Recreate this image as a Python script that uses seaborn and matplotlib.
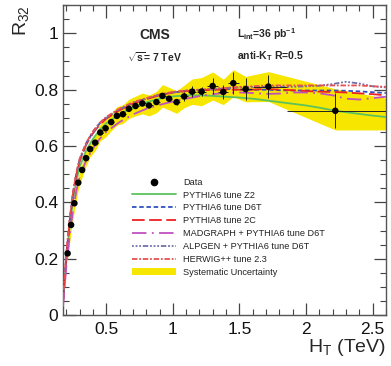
import numpy as np
import pandas as pd
import seaborn as sns
import matplotlib.pyplot as plt
from matplotlib.lines import Line2D
from matplotlib.patches import Patch
from matplotlib.ticker import MultipleLocator

# measured R32 vs HT (TeV)
ht = [0.21, 0.236, 0.261, 0.29, 0.319, 0.349, 0.379, 0.417, 0.455, 0.495,
      0.537, 0.58, 0.625, 0.67, 0.72, 0.771, 0.821, 0.877, 0.922, 0.972,
      1.028, 1.085, 1.145, 1.216, 1.299, 1.379, 1.454, 1.547, 1.718, 2.22]
r32 = [0.219, 0.32, 0.397, 0.47, 0.515, 0.557, 0.589, 0.612, 0.648, 0.663,
       0.685, 0.707, 0.713, 0.732, 0.742, 0.751, 0.744, 0.756, 0.778, 0.768,
       0.756, 0.776, 0.793, 0.793, 0.813, 0.792, 0.823, 0.802, 0.811, 0.725]
r32_err = [0.003, 0.003, 0.003, 0.003, 0.003, 0.003, 0.003, 0.003, 0.003, 0.003,
           0.003, 0.003, 0.004, 0.004, 0.004, 0.005, 0.005, 0.006, 0.007, 0.008,
           0.01, 0.016, 0.02, 0.017, 0.027, 0.024, 0.04, 0.04, 0.042, 0.062]
ht_err_lo = [0.012, 0.013, 0.013, 0.014, 0.015, 0.015, 0.016, 0.018, 0.019, 0.02,
             0.021, 0.022, 0.023, 0.024, 0.025, 0.026, 0.027, 0.028, 0.023, 0.025,
             0.028, 0.029, 0.031, 0.034, 0.04, 0.038, 0.04, 0.045, 0.118, 0.36]
ht_err_hi = [0.012, 0.013, 0.013, 0.014, 0.015, 0.015, 0.016, 0.018, 0.019, 0.02,
             0.021, 0.022, 0.023, 0.024, 0.025, 0.026, 0.027, 0.028, 0.023, 0.025,
             0.028, 0.029, 0.031, 0.034, 0.04, 0.038, 0.04, 0.045, 0.142, 0.38]

# systematic uncertainty band
band_ht = ht + [2.6]
band_lo = [0.2, 0.298, 0.372, 0.445, 0.49, 0.53, 0.562, 0.584, 0.618, 0.632,
           0.654, 0.674, 0.68, 0.698, 0.707, 0.714, 0.707, 0.718, 0.738, 0.728,
           0.716, 0.736, 0.748, 0.743, 0.763, 0.747, 0.775, 0.757, 0.758, 0.657, 0.657]
band_hi = [0.24, 0.342, 0.422, 0.495, 0.54, 0.585, 0.616, 0.64, 0.678, 0.694,
           0.716, 0.74, 0.746, 0.766, 0.777, 0.788, 0.781, 0.794, 0.818, 0.808,
           0.796, 0.816, 0.838, 0.843, 0.863, 0.837, 0.871, 0.847, 0.864, 0.803, 0.77]

# MC predictions
ht_mc = [0.175, 0.2, 0.225, 0.25, 0.275, 0.3, 0.35, 0.4, 0.45, 0.5, 0.6, 0.7, 0.8,
         0.9, 1.0, 1.1, 1.2, 1.3, 1.4, 1.5, 1.6, 1.7, 1.8, 1.9, 2.0, 2.1, 2.2,
         2.3, 2.4, 2.5, 2.6]
z2 = [0.04, 0.19, 0.31, 0.405, 0.475, 0.525, 0.585, 0.625, 0.657, 0.68, 0.713, 0.737,
      0.755, 0.768, 0.776, 0.78, 0.78, 0.778, 0.775, 0.772, 0.768, 0.762, 0.756,
      0.75, 0.744, 0.736, 0.727, 0.72, 0.714, 0.708, 0.703]
d6t = [0.05, 0.21, 0.33, 0.43, 0.50, 0.55, 0.61, 0.65, 0.68, 0.70, 0.73, 0.752,
       0.768, 0.782, 0.79, 0.795, 0.798, 0.80, 0.803, 0.80, 0.80, 0.80, 0.798,
       0.797, 0.797, 0.797, 0.797, 0.796, 0.794, 0.791, 0.788]
p8 = [0.04, 0.20, 0.33, 0.425, 0.495, 0.545, 0.605, 0.645, 0.675, 0.697, 0.727, 0.75,
      0.766, 0.78, 0.79, 0.795, 0.797, 0.80, 0.80, 0.80, 0.80, 0.803, 0.80, 0.798,
      0.795, 0.793, 0.792, 0.79, 0.787, 0.784, 0.78]
madgraph = [0.03, 0.17, 0.28, 0.37, 0.44, 0.49, 0.55, 0.592, 0.625, 0.65, 0.685,
            0.712, 0.732, 0.746, 0.758, 0.768, 0.777, 0.784, 0.789, 0.79, 0.788,
            0.785, 0.786, 0.79, 0.79, 0.787, 0.78, 0.768, 0.765, 0.77, 0.775]
alpgen = [0.05, 0.21, 0.335, 0.43, 0.50, 0.55, 0.607, 0.647, 0.678, 0.70, 0.73,
          0.752, 0.768, 0.782, 0.79, 0.797, 0.80, 0.803, 0.806, 0.808, 0.81, 0.81,
          0.81, 0.81, 0.812, 0.814, 0.82, 0.828, 0.822, 0.812, 0.808]
herwig = [0.05, 0.22, 0.34, 0.435, 0.505, 0.555, 0.612, 0.652, 0.682, 0.703, 0.733,
          0.755, 0.77, 0.783, 0.792, 0.797, 0.80, 0.803, 0.806, 0.81, 0.812, 0.815,
          0.815, 0.815, 0.815, 0.815, 0.815, 0.815, 0.815, 0.812, 0.81]

labels = ["PYTHIA6 tune Z2", "PYTHIA6 tune D6T", "PYTHIA8 tune 2C",
          "MADGRAPH + PYTHIA6 tune D6T", "ALPGEN + PYTHIA6 tune D6T",
          "HERWIG++ tune 2.3"]

sns.set_style("ticks")
plt.rcParams['font.family'] = ['Liberation Sans', 'DejaVu Sans']
plt.rcParams['mathtext.fontset'] = 'custom'
plt.rcParams['mathtext.rm'] = 'Liberation Sans'
plt.rcParams['mathtext.it'] = 'Liberation Sans'
plt.rcParams['mathtext.bf'] = 'Liberation Sans:bold'

fig = plt.figure(figsize=(3.91, 3.66), dpi=100)
ax = fig.add_axes([0.161, 0.139, 0.826, 0.847])

yellow = '#f7e600'
ax.fill_between(band_ht, band_lo, band_hi, color=yellow, lw=0, zorder=1)

styles = [
    ('#5cc35c', '-'),
    ('#3050c0', (0, (2.5, 1.5))),
    ('#ee2020', (0, (7, 2.5))),
    ('#c050c0', (0, (8, 3, 1, 3))),
    ('#7070a8', (0, (1, 1, 1, 1, 1, 1, 3, 1))),
    ('#e85050', (0, (3, 1, 1, 1))),
]
curves = [z2, d6t, p8, madgraph, alpgen, herwig]
for yv, (c, ls) in zip(curves, styles):
    df = pd.DataFrame({'ht': ht_mc, 'r': yv})
    sns.lineplot(data=df, x='ht', y='r', ax=ax, color=c, linestyle=ls, lw=1.3,
                 zorder=3)

ax.errorbar(ht, r32, yerr=r32_err, xerr=[ht_err_lo, ht_err_hi], fmt='none',
            ecolor='#222222', elinewidth=0.7, capsize=0, zorder=4)
sns.scatterplot(x=ht, y=r32, ax=ax, color='black', s=22, edgecolor='none', zorder=5)

ax.set_xlim(0.175, 2.6)
ax.set_ylim(0, 1.1)
ax.xaxis.set_major_locator(MultipleLocator(0.5))
ax.xaxis.set_minor_locator(MultipleLocator(0.1))
ax.yaxis.set_major_locator(MultipleLocator(0.2))
ax.yaxis.set_minor_locator(MultipleLocator(0.05))
ax.set_yticks([0, 0.2, 0.4, 0.6, 0.8, 1])
ax.set_yticklabels(['0', '0.2', '0.4', '0.6', '0.8', '1'])
ax.set_xticks([0.5, 1, 1.5, 2, 2.5])
ax.set_xticklabels(['0.5', '1', '1.5', '2', '2.5'])
ax.tick_params(which='both', direction='in', top=True, right=True, colors='#444444',
               labelcolor='#111111', labelsize=12.5)
ax.tick_params(which='major', length=9, width=0.9)
ax.tick_params(which='minor', length=4.5, width=0.8)
ax.tick_params(axis='x', pad=5)
for s in ax.spines.values():
    s.set_color('#555555')
    s.set_linewidth(1.0)

ax.set_xlabel('H$_{\\mathregular{T}}$ (TeV)', fontsize=14, loc='right', labelpad=0)
ax.set_ylabel('R$_{\\mathregular{32}}$', fontsize=14, loc='top', labelpad=2)

ax.text(0.283, 0.905, 'CMS', transform=ax.transAxes, fontsize=10, fontweight='bold',
        ha='center', va='center')
ax.text(0.283, 0.832, '$\\sqrt{\\mathregular{s}}$= 7 TeV', transform=ax.transAxes,
        fontsize=7.5, fontweight='bold', ha='center', va='center')
ax.text(0.54, 0.905, 'L$_{\\mathregular{int}}$=36 pb$^{\\mathregular{-1}}$',
        transform=ax.transAxes, fontsize=7.5, fontweight='bold', ha='left', va='center')
ax.text(0.54, 0.837, 'anti-K$_{\\mathregular{T}}$ R=0.5', transform=ax.transAxes,
        fontsize=7.5, fontweight='bold', ha='left', va='center')

handles = [Line2D([], [], color='black', marker='o', ls='none', markersize=4.5)]
for c, ls in styles:
    handles.append(Line2D([], [], color=c, ls=ls, lw=1.3))
handles.append(Patch(facecolor=yellow, edgecolor='none'))
ax.legend(handles, ['Data'] + labels + ['Systematic Uncertainty'],
          loc='upper left', bbox_to_anchor=(0.2, 0.458), frameon=False,
          fontsize=6.6, handlelength=4.8, handletextpad=0.8, labelspacing=0.42,
          borderpad=0, labelcolor='#222222')

fig.savefig('out.png', dpi=100)
